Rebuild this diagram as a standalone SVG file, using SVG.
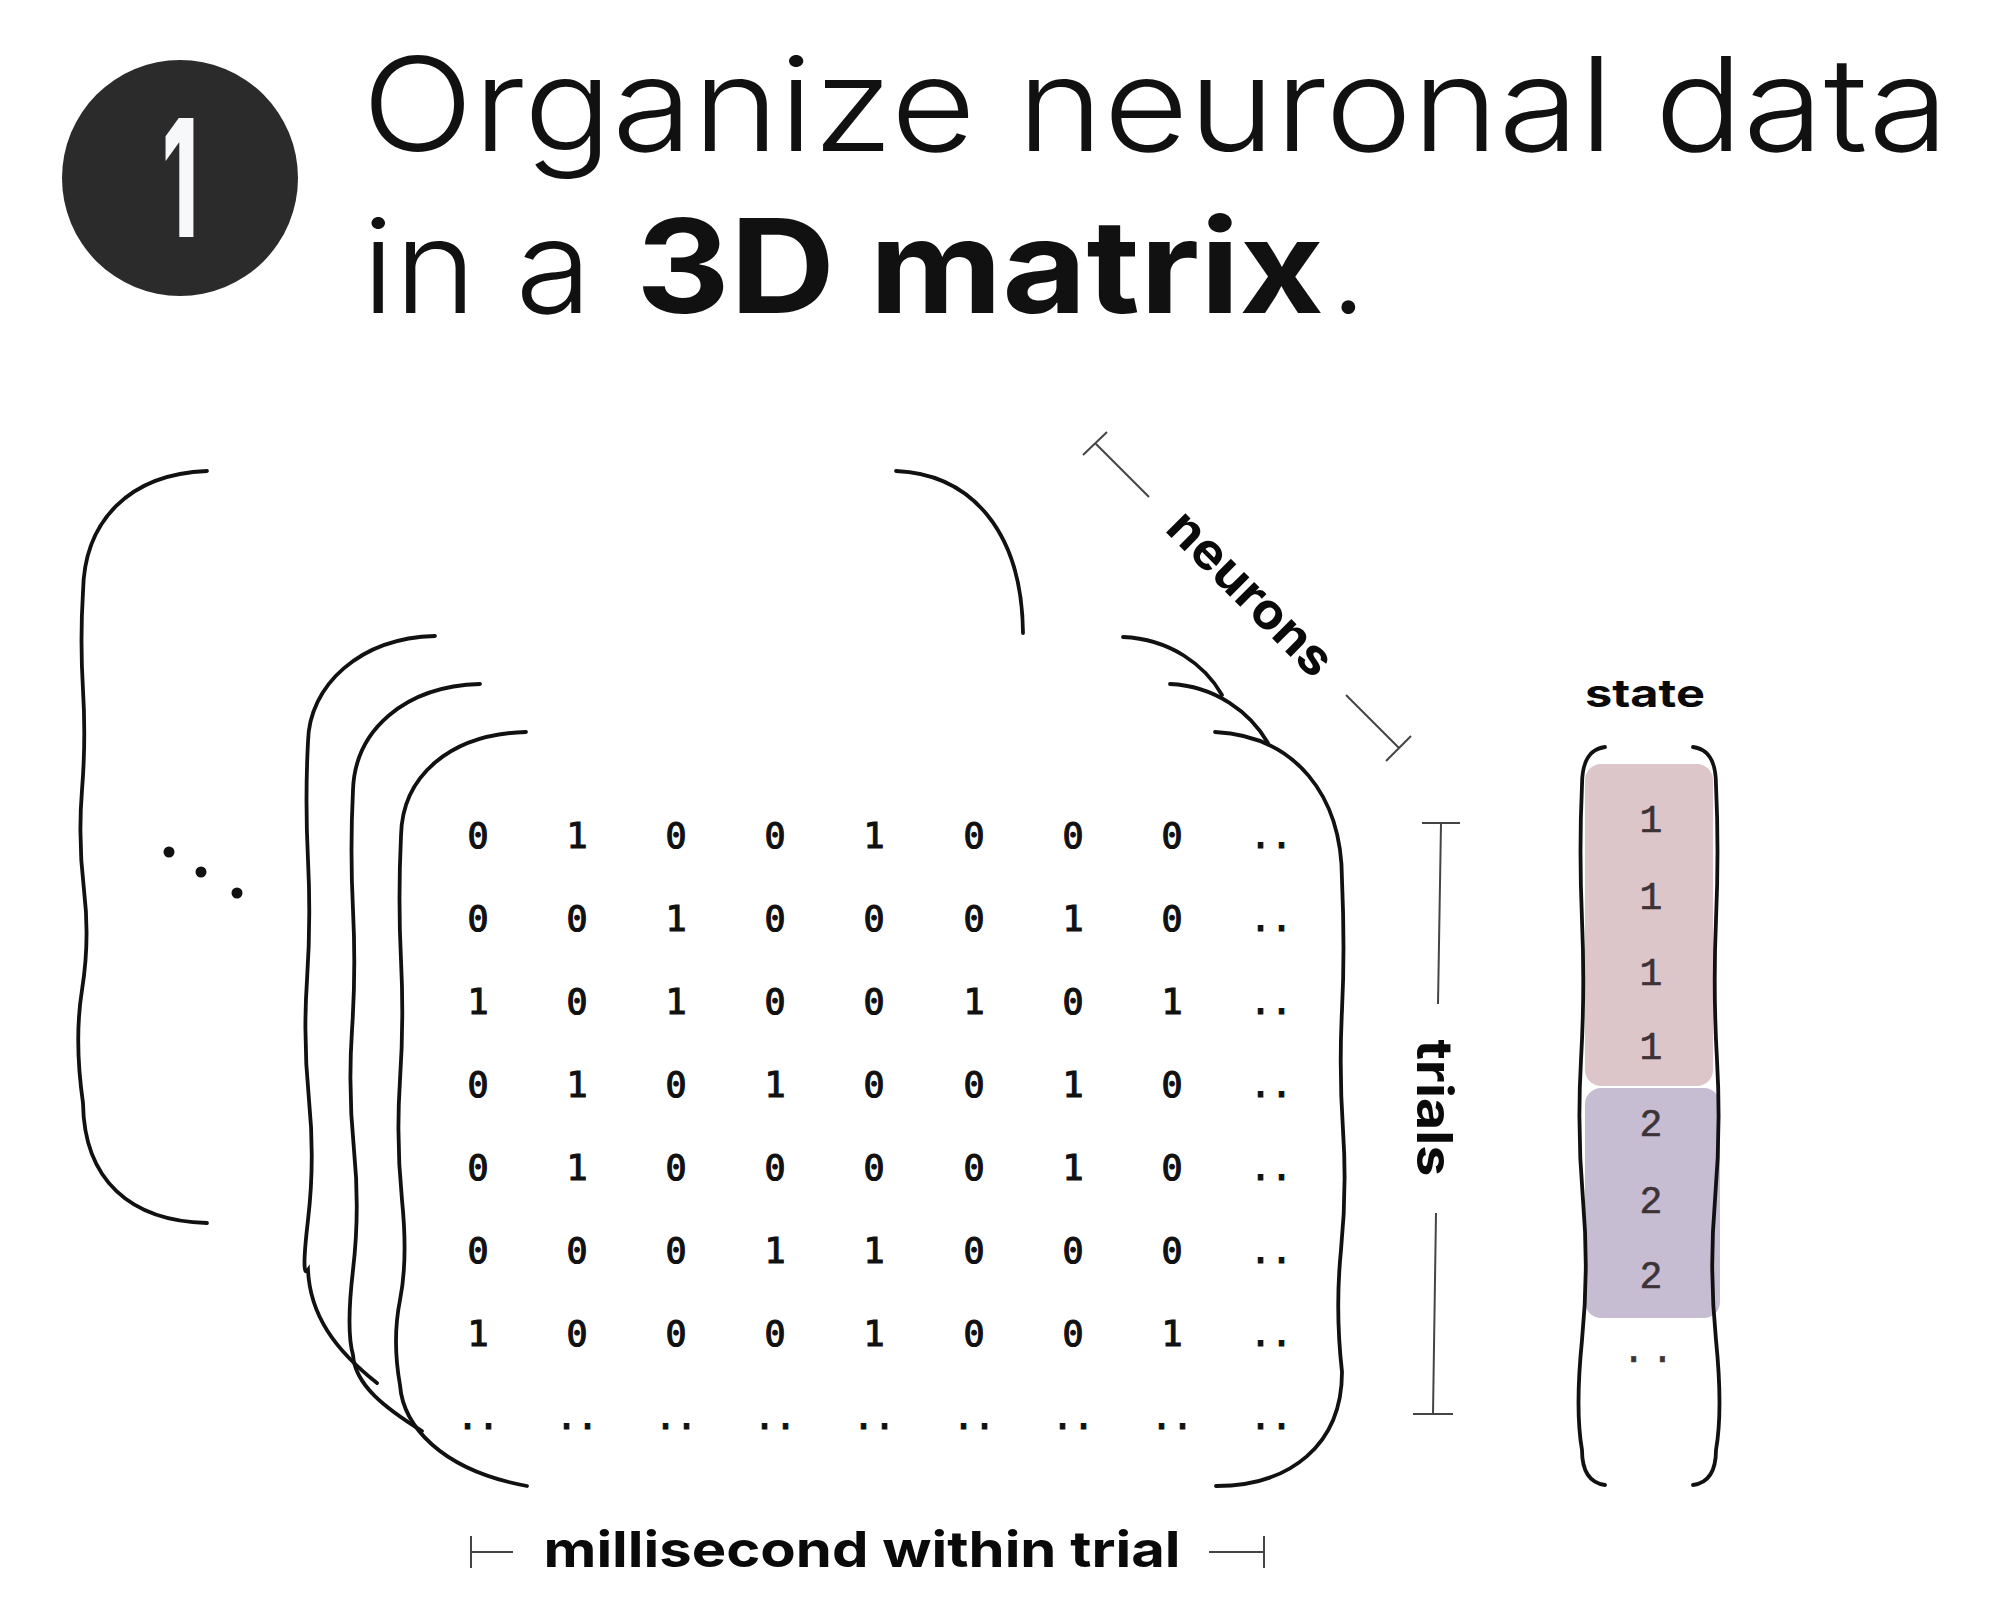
<svg xmlns="http://www.w3.org/2000/svg" width="2006" height="1624" viewBox="0 0 2006 1624">
<style>
  .br { fill: none; stroke: #111; stroke-width: 3.8; stroke-linecap: round; }
  .bar { fill: none; stroke: #444; stroke-width: 2; }
  .title { font-family: Inter, "Open Sans", sans-serif; fill: #111; }
  .lbl { font-family: Inter, "Open Sans", sans-serif; font-weight: 700; fill: #0a0a0a; }
  .m { font-family: "DejaVu Sans Mono", monospace; font-size: 35px; fill: #111; text-anchor: middle; stroke: #111; stroke-width: 1.2; }
  .s { font-family: "Liberation Mono", monospace; font-size: 38px; fill: #3d3236; text-anchor: middle; stroke: #3d3236; stroke-width: 0.6; }
</style>
<rect width="2006" height="1624" fill="#ffffff"/>

<g id="step-badge">
  <circle cx="180" cy="178" r="118" fill="#2b2b2b"/>
  <text x="180" y="237" text-anchor="middle" font-family="Inter, sans-serif" font-weight="800" font-size="164" fill="#f7f8fa" textLength="36" lengthAdjust="spacingAndGlyphs">1</text>
</g>

<g id="title">
  <text class="title" x="362" y="151" font-size="130" font-weight="300" textLength="1587" lengthAdjust="spacingAndGlyphs">Organize neuronal data</text>
  <text class="title" x="362" y="313" font-size="130" font-weight="300" textLength="230" lengthAdjust="spacingAndGlyphs">in a</text>
  <text class="title" x="636" y="313" font-size="130" font-weight="700" textLength="688" lengthAdjust="spacingAndGlyphs">3D matrix</text>
  <text class="title" x="1330" y="313" font-size="130" font-weight="300">.</text>
</g>

<g id="matrix-stack">
  <g id="outer-layers">
    <path class="br" d="M207,471 C130,474 84,520 83,592 Q80,640 83,690 T82,790 T84,890 T82,990 T83,1103 C84,1180 130,1221 207,1223"/>
    <path class="br" d="M896,471 C970,474 1022,530 1023,633"/>
    <circle cx="169" cy="852" r="5.5" fill="#111"/>
    <circle cx="201" cy="872" r="5.5" fill="#111"/>
    <circle cx="237" cy="893" r="5.5" fill="#111"/>
  </g>
  <g id="layer-back">
    <path class="br" d="M435,636 C360,638 309,685 308,742 Q305,800 308,860 T307,980 T309,1100 T308,1220 T308,1270 C310,1315 335,1350 377,1383"/>
    <path class="br" d="M1123,637 C1170,639 1205,665 1222,695"/>
  </g>
  <g id="layer-middle">
    <path class="br" d="M480,684 C405,686 355,730 353,790 Q350,850 353,910 T352,1030 T354,1150 T353,1270 T353,1355 C355,1385 385,1408 422,1431"/>
    <path class="br" d="M1170,684 C1215,686 1250,712 1268,743"/>
  </g>
  <g id="layer-front">
    <path class="br" d="M526,732 C450,734 402,776 401,836 Q398,900 401,960 T400,1080 T402,1200 T400,1300 T400,1385 C403,1425 440,1470 527,1486"/>
    <path class="br" d="M1215,732 C1295,736 1342,795 1342,880 Q1345,950 1342,1010 T1343,1130 T1341,1250 T1342,1372 C1342,1445 1290,1486 1216,1486"/>
  </g>
  <g id="matrix-values">
    <text class="m" y="848"><tspan x="478">0</tspan><tspan x="577">1</tspan><tspan x="676">0</tspan><tspan x="775">0</tspan><tspan x="874">1</tspan><tspan x="974">0</tspan><tspan x="1073">0</tspan><tspan x="1172">0</tspan><tspan x="1271">..</tspan></text>
    <text class="m" y="931"><tspan x="478">0</tspan><tspan x="577">0</tspan><tspan x="676">1</tspan><tspan x="775">0</tspan><tspan x="874">0</tspan><tspan x="974">0</tspan><tspan x="1073">1</tspan><tspan x="1172">0</tspan><tspan x="1271">..</tspan></text>
    <text class="m" y="1014"><tspan x="478">1</tspan><tspan x="577">0</tspan><tspan x="676">1</tspan><tspan x="775">0</tspan><tspan x="874">0</tspan><tspan x="974">1</tspan><tspan x="1073">0</tspan><tspan x="1172">1</tspan><tspan x="1271">..</tspan></text>
    <text class="m" y="1097"><tspan x="478">0</tspan><tspan x="577">1</tspan><tspan x="676">0</tspan><tspan x="775">1</tspan><tspan x="874">0</tspan><tspan x="974">0</tspan><tspan x="1073">1</tspan><tspan x="1172">0</tspan><tspan x="1271">..</tspan></text>
    <text class="m" y="1180"><tspan x="478">0</tspan><tspan x="577">1</tspan><tspan x="676">0</tspan><tspan x="775">0</tspan><tspan x="874">0</tspan><tspan x="974">0</tspan><tspan x="1073">1</tspan><tspan x="1172">0</tspan><tspan x="1271">..</tspan></text>
    <text class="m" y="1263"><tspan x="478">0</tspan><tspan x="577">0</tspan><tspan x="676">0</tspan><tspan x="775">1</tspan><tspan x="874">1</tspan><tspan x="974">0</tspan><tspan x="1073">0</tspan><tspan x="1172">0</tspan><tspan x="1271">..</tspan></text>
    <text class="m" y="1346"><tspan x="478">1</tspan><tspan x="577">0</tspan><tspan x="676">0</tspan><tspan x="775">0</tspan><tspan x="874">1</tspan><tspan x="974">0</tspan><tspan x="1073">0</tspan><tspan x="1172">1</tspan><tspan x="1271">..</tspan></text>
    <text class="m" y="1429"><tspan x="478">..</tspan><tspan x="577">..</tspan><tspan x="676">..</tspan><tspan x="775">..</tspan><tspan x="874">..</tspan><tspan x="974">..</tspan><tspan x="1073">..</tspan><tspan x="1172">..</tspan><tspan x="1271">..</tspan></text>
  </g>
</g>

<g id="neurons-axis">
  <path class="bar" d="M1083,455 L1107,432 M1096,444 L1149,497 M1346,695 L1399,748 M1386,761 L1411,736"/>
  <text class="lbl" transform="translate(1248,596) rotate(45)" x="0" y="13" text-anchor="middle" font-size="50" textLength="212" lengthAdjust="spacingAndGlyphs">neurons</text>
</g>

<g id="trials-axis">
  <path class="bar" d="M1422,823 L1460,823 M1441,823 L1438,1004 M1436,1213 L1433,1414 M1413,1414 L1453,1414"/>
  <text class="lbl" transform="translate(1431,1108) rotate(90)" x="0" y="14" text-anchor="middle" font-size="50" textLength="137" lengthAdjust="spacingAndGlyphs">trials</text>
</g>

<g id="time-axis">
  <path class="bar" d="M471,1536 L471,1568 M471,1552 L513,1552 M1209,1552 L1264,1552 M1264,1536 L1264,1568"/>
  <text class="lbl" x="862" y="1567" text-anchor="middle" font-size="50" textLength="637" lengthAdjust="spacingAndGlyphs">millisecond within trial</text>
</g>

<g id="state-vector">
  <text class="lbl" x="1645" y="707" text-anchor="middle" font-size="38" textLength="120" lengthAdjust="spacingAndGlyphs">state</text>
  <rect id="state-1" x="1585" y="764" width="128" height="322" rx="16" fill="#dcc6c9"/>
  <rect id="state-2" x="1585" y="1088" width="135" height="230" rx="16" fill="#c7bdd3"/>
  <path class="br" d="M1605,747 C1590,749 1582,760 1582,785 Q1579,850 1582,920 T1581,1060 T1583,1200 T1582,1340 T1582,1450 C1582,1472 1590,1483 1605,1485"/>
  <path class="br" d="M1693,747 C1708,749 1716,760 1716,785 Q1719,850 1716,920 T1717,1060 T1715,1200 T1716,1340 T1716,1450 C1716,1472 1708,1483 1693,1485"/>
  <text class="s" x="1651" y="832">1</text>
  <text class="s" x="1651" y="909">1</text>
  <text class="s" x="1651" y="985">1</text>
  <text class="s" x="1651" y="1059">1</text>
  <text class="s" x="1651" y="1136">2</text>
  <text class="s" x="1651" y="1213">2</text>
  <text class="s" x="1651" y="1288">2</text>
  <text class="s" x="1651" y="1362" letter-spacing="6">..</text>
</g>
</svg>
